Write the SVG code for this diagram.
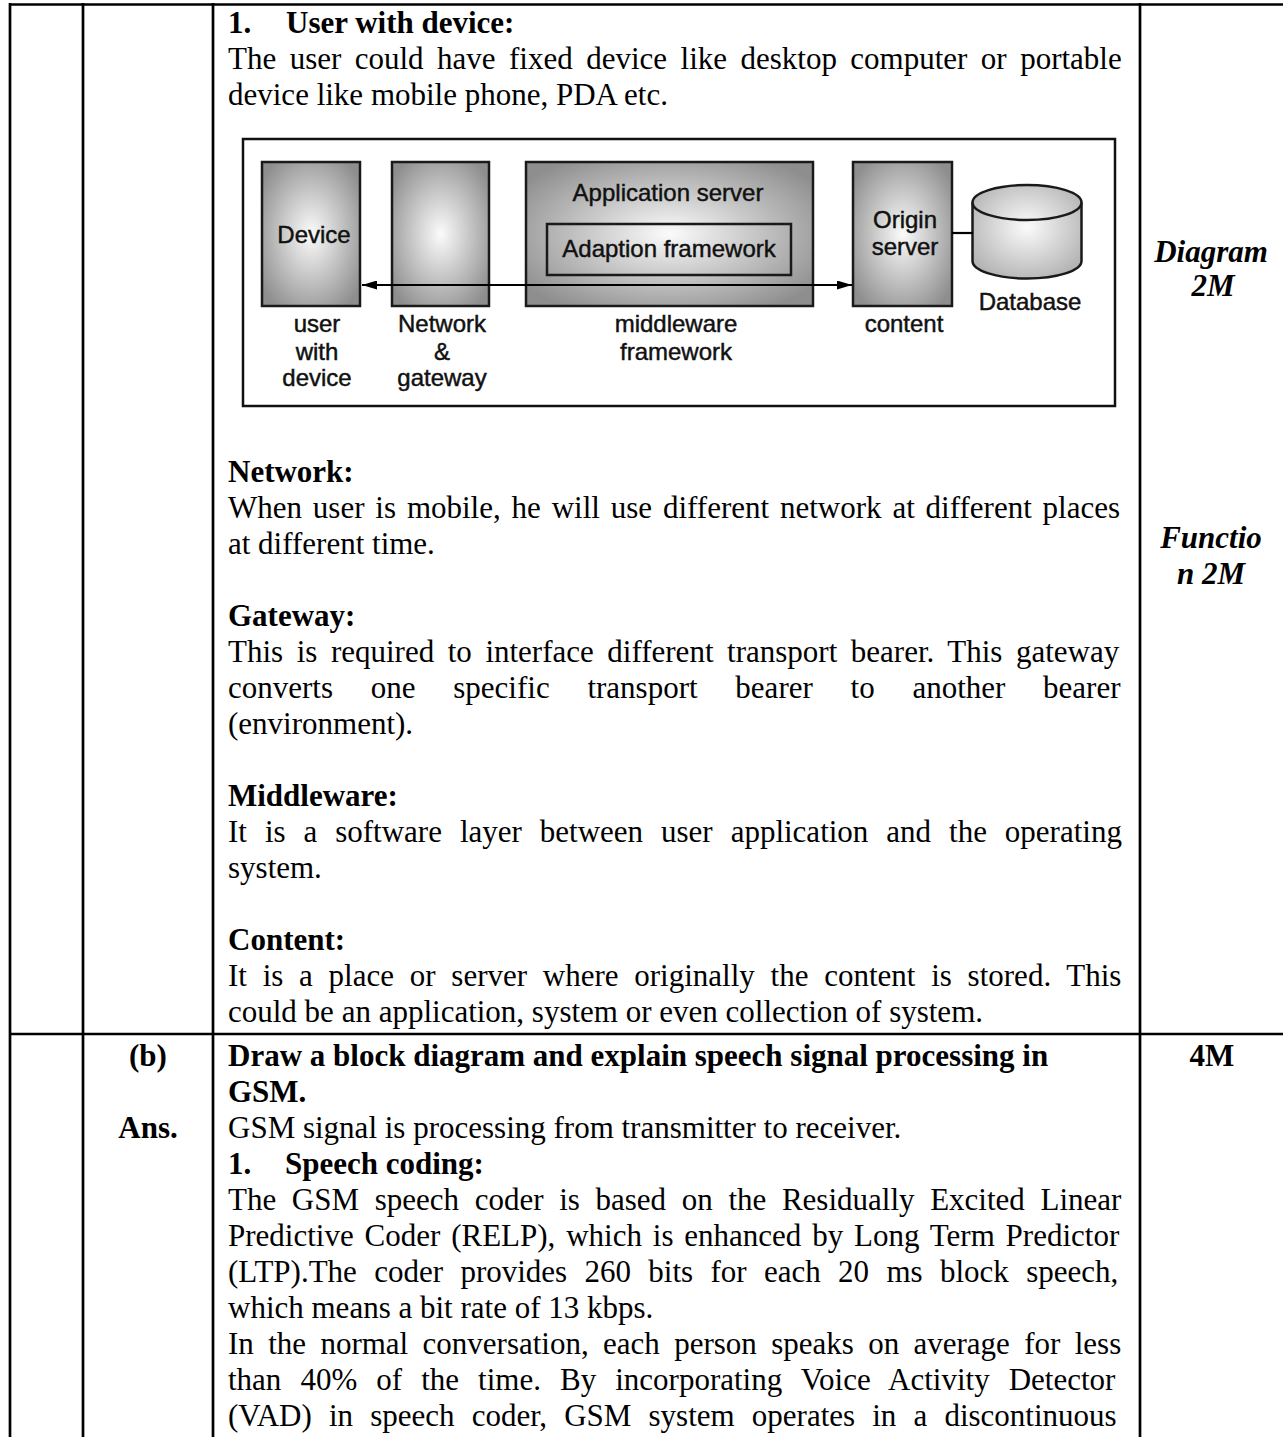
<svg xmlns="http://www.w3.org/2000/svg" width="1283" height="1437" viewBox="0 0 1283 1437">
<defs>
<radialGradient id="g" cx="0.5" cy="0.5" r="0.62">
<stop offset="0" stop-color="#fbfbfb"/>
<stop offset="1" stop-color="#8e8e8e"/>
</radialGradient>
<radialGradient id="gc" cx="0.5" cy="0.45" r="0.6">
<stop offset="0" stop-color="#fbfbfb"/>
<stop offset="1" stop-color="#b4b4b4"/>
</radialGradient>
<marker id="ah" viewBox="0 0 15 9" refX="15" refY="4.5" markerWidth="15" markerHeight="9" markerUnits="userSpaceOnUse" orient="auto-start-reverse">
<path d="M0,0 L15,4.5 L0,9 z" fill="#000"/>
</marker>
</defs>
<style>
.t{font-family:"Liberation Serif","Times New Roman",serif;font-size:31px;fill:#000}
.b{font-weight:bold}
.bi{font-weight:bold;font-style:italic;text-anchor:middle}
.c{text-anchor:middle}
.s{font-family:"Liberation Sans",Arial,sans-serif;font-size:24px;fill:#111;stroke:#111;stroke-width:0.45;text-anchor:middle}
.grid{stroke:#000;stroke-width:2.7;fill:none}
.box{fill:url(#g);stroke:#1a1a1a;stroke-width:2.5}
.ln{stroke:#000;stroke-width:2.2;fill:none}
</style>
<rect width="1283" height="1437" fill="#fff"/>

<g id="table">
<line class="grid" x1="10" y1="4.5" x2="1283" y2="4.5"/>
<line class="grid" x1="10" y1="1034" x2="1283" y2="1034"/>
<line class="grid" x1="10" y1="3" x2="10" y2="1437"/>
<line class="grid" x1="83" y1="3" x2="83" y2="1437"/>
<line class="grid" x1="213" y1="3" x2="213" y2="1437"/>
<line class="grid" x1="1140" y1="3" x2="1140" y2="1437"/>
</g>

<g id="row1-text">
<text class="t b" x="228" y="33">1.</text>
<text class="t b" x="286" y="33">User with device:</text>
<text class="t" x="228" y="69" word-spacing="5.7">The user could have fixed device like desktop computer or portable</text>
<text class="t" x="228" y="105">device like mobile phone, PDA etc.</text>
<text class="t b" x="228" y="482">Network:</text>
<text class="t" x="228" y="518" word-spacing="3.1">When user is mobile, he will use different network at different places</text>
<text class="t" x="228" y="554">at different time.</text>
<text class="t b" x="228" y="626">Gateway:</text>
<text class="t" x="228" y="662" word-spacing="5.8">This is required to interface different transport bearer. This gateway</text>
<text class="t" x="228" y="698" word-spacing="30">converts one specific transport bearer to another bearer</text>
<text class="t" x="228" y="734">(environment).</text>
<text class="t b" x="228" y="806">Middleware:</text>
<text class="t" x="228" y="842" word-spacing="10.2">It is a software layer between user application and the operating</text>
<text class="t" x="228" y="878">system.</text>
<text class="t b" x="228" y="950">Content:</text>
<text class="t" x="228" y="986" word-spacing="8">It is a place or server where originally the content is stored. This</text>
<text class="t" x="228" y="1022">could be an application, system or even collection of system.</text>
</g>

<g id="marks">
<text class="t bi" x="1211" y="262">Diagram</text>
<text class="t bi" x="1213" y="296">2M</text>
<text class="t bi" x="1211" y="548">Functio</text>
<text class="t bi" x="1211" y="584">n 2M</text>
<text class="t b c" x="1212" y="1066">4M</text>
<text class="t b c" x="148" y="1066">(b)</text>
<text class="t b c" x="148" y="1138">Ans.</text>
</g>

<g id="row2-text">
<text class="t b" x="228" y="1066">Draw a block diagram and explain speech signal processing in</text>
<text class="t b" x="228" y="1102">GSM.</text>
<text class="t" x="228" y="1138">GSM signal is processing from transmitter to receiver.</text>
<text class="t b" x="228" y="1174">1.</text>
<text class="t b" x="285" y="1174">Speech coding:</text>
<text class="t" x="228" y="1210" word-spacing="7.9">The GSM speech coder is based on the Residually Excited Linear</text>
<text class="t" x="228" y="1246" word-spacing="3.1">Predictive Coder (RELP), which is enhanced by Long Term Predictor</text>
<text class="t" x="228" y="1282" word-spacing="9.6">(LTP).The coder provides 260 bits for each 20 ms block speech,</text>
<text class="t" x="228" y="1318">which means a bit rate of 13 kbps.</text>
<text class="t" x="228" y="1354" word-spacing="6.6">In the normal conversation, each person speaks on average for less</text>
<text class="t" x="228" y="1390" word-spacing="11.3">than 40% of the time. By incorporating Voice Activity Detector</text>
<text class="t" x="228" y="1426" word-spacing="9.4">(VAD) in speech coder, GSM system operates in a discontinuous</text>
</g>

<g id="diagram">
<rect id="frame" x="243" y="139" width="872" height="267" fill="none" stroke="#111" stroke-width="2.5"/>

<g id="device">
<rect class="box" x="262" y="162" width="98" height="144"/>
<text class="s" x="314" y="243">Device</text>
<text class="s" x="317" y="332">user</text>
<text class="s" x="317" y="360">with</text>
<text class="s" x="317" y="386">device</text>
</g>

<g id="network">
<rect class="box" x="392" y="162" width="97" height="144"/>
<text class="s" x="442" y="332">Network</text>
<text class="s" x="442" y="360">&amp;</text>
<text class="s" x="442" y="386">gateway</text>
</g>

<g id="app-server">
<rect class="box" x="526" y="162" width="287" height="144"/>
<text class="s" x="668" y="201">Application server</text>
<rect x="547" y="224" width="244" height="51" fill="none" stroke="#1a1a1a" stroke-width="2.5"/>
<text class="s" x="669" y="257">Adaption framework</text>
<text class="s" x="676" y="332">middleware</text>
<text class="s" x="676" y="360">framework</text>
</g>

<g id="origin-server">
<rect class="box" x="853" y="162" width="99" height="144"/>
<text class="s" x="905" y="228">Origin</text>
<text class="s" x="905" y="255">server</text>
<text class="s" x="904" y="332">content</text>
</g>

<g id="database">
<path d="M972.5,202.5 L972.5,261 A54.5,17.5 0 0 0 1081.5,261 L1081.5,202.5 A54.5,17.5 0 0 0 972.5,202.5 z" fill="url(#gc)" stroke="#1a1a1a" stroke-width="2.5"/>
<path d="M972.5,202.5 A54.5,17.5 0 0 0 1081.5,202.5" fill="none" stroke="#1a1a1a" stroke-width="2.5"/>
<text class="s" x="1030" y="310">Database</text>
</g>

<g id="connectors">
<line class="ln" x1="362" y1="285" x2="852" y2="285" marker-start="url(#ah)" marker-end="url(#ah)"/>
<line class="ln" x1="952" y1="233" x2="973" y2="233"/>
</g>
</g>
</svg>
